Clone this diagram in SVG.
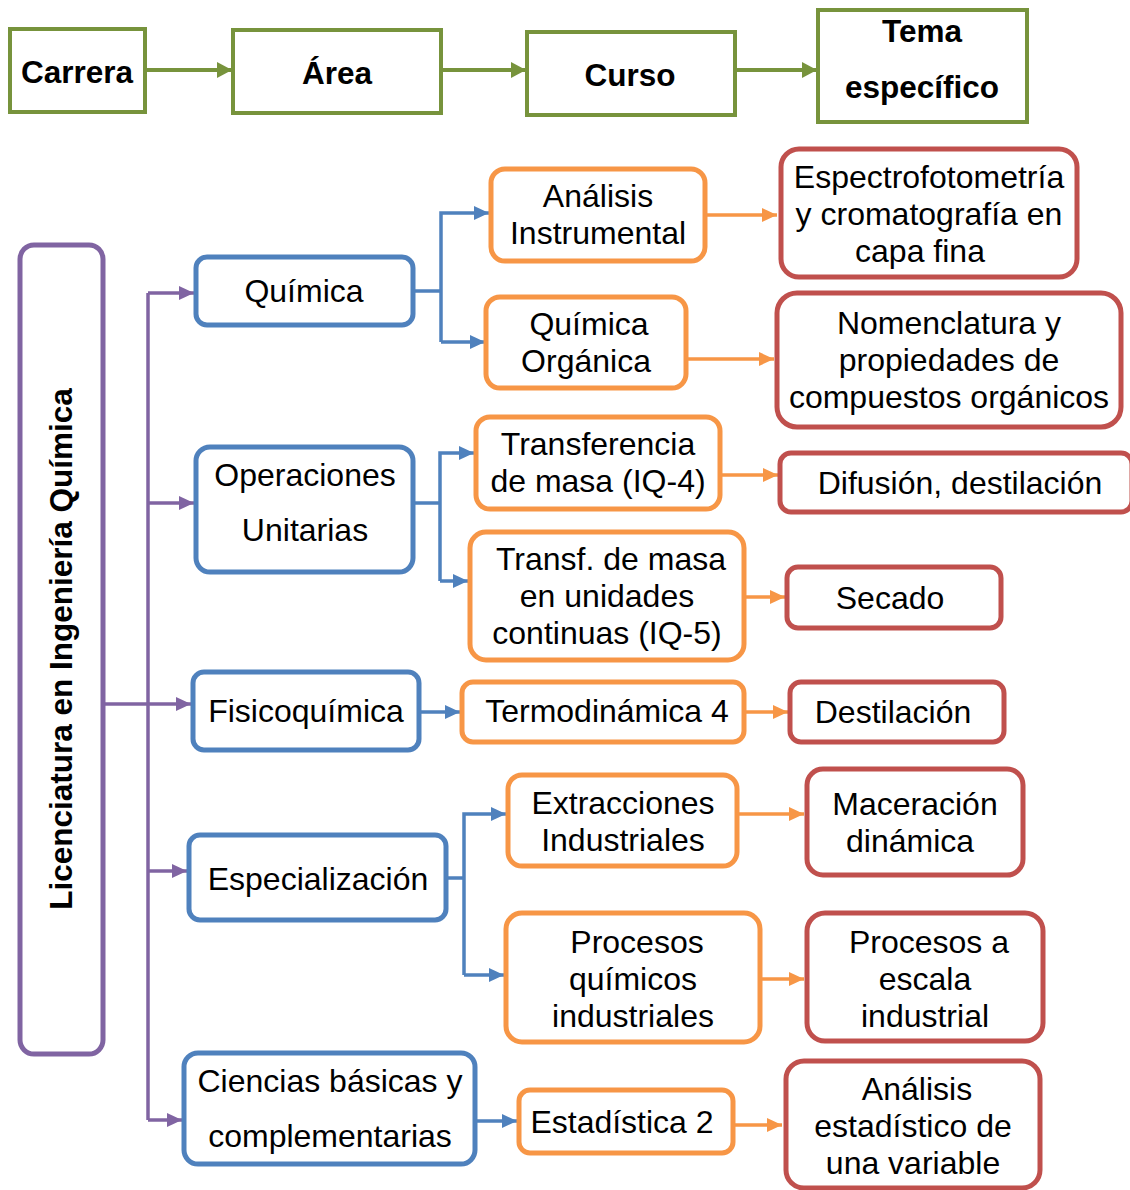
<svg xmlns="http://www.w3.org/2000/svg" width="1130" height="1190" viewBox="0 0 1130 1190">
<style>
text{font-family:"Liberation Sans",Arial,sans-serif;font-size:32px;fill:#000;text-anchor:middle}
.b{font-weight:bold;font-size:31.5px}
.g{fill:#fff;stroke:#77933C;stroke-width:4}
.p{fill:#fff;stroke:#8064A2;stroke-width:5}
.bl{fill:#fff;stroke:#4F81BD;stroke-width:5}
.o{fill:#fff;stroke:#F79646;stroke-width:5}
.r{fill:#fff;stroke:#C0504D;stroke-width:5}
.cg{fill:none;stroke:#77933C;stroke-width:4}
.cp{fill:none;stroke:#8064A2;stroke-width:3.5}
.cb{fill:none;stroke:#4F81BD;stroke-width:3.5}
.co{fill:none;stroke:#F79646;stroke-width:3.5}
</style>
<defs>
<marker id="ag" markerUnits="userSpaceOnUse" markerWidth="16" markerHeight="16" refX="15" refY="8" orient="auto"><path d="M0,0L15,8L0,16z" fill="#77933C"/></marker>
<marker id="ap" markerUnits="userSpaceOnUse" markerWidth="16" markerHeight="16" refX="15" refY="8" orient="auto"><path d="M0,1L15,8L0,15z" fill="#8064A2"/></marker>
<marker id="ab" markerUnits="userSpaceOnUse" markerWidth="16" markerHeight="16" refX="15" refY="8" orient="auto"><path d="M0,1L15,8L0,15z" fill="#4F81BD"/></marker>
<marker id="ao" markerUnits="userSpaceOnUse" markerWidth="16" markerHeight="16" refX="15" refY="8" orient="auto"><path d="M0,1L15,8L0,15z" fill="#F79646"/></marker>
</defs>
<g id="connectors">
<path class="cg" d="M145,70H232" marker-end="url(#ag)"/>
<path class="cg" d="M441,70H526" marker-end="url(#ag)"/>
<path class="cg" d="M735,70H817" marker-end="url(#ag)"/>
<path class="cp" d="M103,704H148"/>
<path class="cp" d="M148,293V1120"/>
<path class="cp" d="M148,293H194" marker-end="url(#ap)"/>
<path class="cp" d="M148,503H194" marker-end="url(#ap)"/>
<path class="cp" d="M148,704H191" marker-end="url(#ap)"/>
<path class="cp" d="M148,871H187" marker-end="url(#ap)"/>
<path class="cp" d="M148,1120H182" marker-end="url(#ap)"/>
<path class="cb" d="M413,291H441"/>
<path class="cb" d="M441,342V213H489" marker-end="url(#ab)"/>
<path class="cb" d="M441,342H485" marker-end="url(#ab)"/>
<path class="cb" d="M413,503H440"/>
<path class="cb" d="M440,581V453H474" marker-end="url(#ab)"/>
<path class="cb" d="M440,581H468" marker-end="url(#ab)"/>
<path class="cb" d="M419,712H460" marker-end="url(#ab)"/>
<path class="cb" d="M446,878H464"/>
<path class="cb" d="M464,975V814H506" marker-end="url(#ab)"/>
<path class="cb" d="M464,975H504" marker-end="url(#ab)"/>
<path class="cb" d="M475,1121H517" marker-end="url(#ab)"/>
<path class="co" d="M705,215H777" marker-end="url(#ao)"/>
<path class="co" d="M686,359H774" marker-end="url(#ao)"/>
<path class="co" d="M720,475H778" marker-end="url(#ao)"/>
<path class="co" d="M744,597H785" marker-end="url(#ao)"/>
<path class="co" d="M744,712H788" marker-end="url(#ao)"/>
<path class="co" d="M737,814H804" marker-end="url(#ao)"/>
<path class="co" d="M760,979H804" marker-end="url(#ao)"/>
<path class="co" d="M733,1125H782" marker-end="url(#ao)"/>
</g>
<g id="h-carrera"><rect class="g" x="10" y="29" width="135" height="83"/><text class="b" x="77" y="83">Carrera</text></g>
<g id="h-area"><rect class="g" x="233" y="30" width="208" height="83"/><text class="b" x="337" y="84">Área</text></g>
<g id="h-curso"><rect class="g" x="527" y="32" width="208" height="83"/><text class="b" x="630" y="86">Curso</text></g>
<g id="h-tema"><rect class="g" x="818" y="10" width="209" height="112"/><text class="b" x="922" y="42">Tema</text><text class="b" x="922" y="98">específico</text></g>
<g id="lic"><rect class="p" x="20" y="245" width="83" height="809" rx="14"/><text class="b" transform="translate(72,649) rotate(-90)">Licenciatura en Ingeniería Química</text></g>
<g id="quimica"><rect class="bl" x="196" y="257" width="217" height="68" rx="11"/><text x="304" y="302">Química</text></g>
<g id="opunit"><rect class="bl" x="196" y="447" width="217" height="125" rx="14"/><text x="305" y="486">Operaciones</text><text x="305" y="541">Unitarias</text></g>
<g id="fisico"><rect class="bl" x="193" y="672" width="226" height="78" rx="11"/><text x="306" y="722">Fisicoquímica</text></g>
<g id="espec"><rect class="bl" x="189" y="835" width="257" height="85" rx="11"/><text x="318" y="890">Especialización</text></g>
<g id="ciencias"><rect class="bl" x="184" y="1053" width="291" height="111" rx="14"/><text x="330" y="1092">Ciencias básicas y</text><text x="330" y="1147">complementarias</text></g>
<g id="analisis-inst"><rect class="o" x="491" y="169" width="214" height="92" rx="14"/><text x="598" y="207">Análisis</text><text x="598" y="244">Instrumental</text></g>
<g id="qorg"><rect class="o" x="486" y="297" width="200" height="91" rx="14"/><text x="589" y="335">Química</text><text x="586" y="372">Orgánica</text></g>
<g id="tm4"><rect class="o" x="476" y="417" width="244" height="92" rx="14"/><text x="598" y="455">Transferencia</text><text x="598" y="492">de masa (IQ-4)</text></g>
<g id="tm5"><rect class="o" x="470" y="532" width="274" height="128" rx="16"/><text x="611" y="570">Transf. de masa</text><text x="607" y="607">en unidades</text><text x="607" y="644">continuas (IQ-5)</text></g>
<g id="termo"><rect class="o" x="462" y="682" width="282" height="60" rx="11"/><text x="607" y="722">Termodinámica 4</text></g>
<g id="extr"><rect class="o" x="508" y="775" width="229" height="91" rx="14"/><text x="623" y="814">Extracciones</text><text x="623" y="851">Industriales</text></g>
<g id="procq"><rect class="o" x="506" y="913" width="254" height="129" rx="16"/><text x="637" y="953">Procesos</text><text x="633" y="990">químicos</text><text x="633" y="1027">industriales</text></g>
<g id="estad"><rect class="o" x="519" y="1090" width="214" height="63" rx="11"/><text x="622" y="1133">Estadística 2</text></g>
<g id="t-espectro"><rect class="r" x="781" y="149" width="296" height="128" rx="18"/><text x="929" y="188">Espectrofotometría</text><text x="929" y="225">y cromatografía en</text><text x="920" y="262">capa fina</text></g>
<g id="t-nomen"><rect class="r" x="777" y="293" width="344" height="134" rx="20"/><text x="949" y="334">Nomenclatura y</text><text x="949" y="371">propiedades de</text><text x="949" y="408">compuestos orgánicos</text></g>
<g id="t-difusion"><rect class="r" x="780" y="453" width="352" height="59" rx="11"/><text x="960" y="494">Difusión, destilación</text></g>
<g id="t-secado"><rect class="r" x="787" y="567" width="214" height="61" rx="11"/><text x="890" y="609">Secado</text></g>
<g id="t-destil"><rect class="r" x="790" y="682" width="214" height="60" rx="11"/><text x="893" y="723">Destilación</text></g>
<g id="t-macer"><rect class="r" x="807" y="769" width="216" height="106" rx="16"/><text x="915" y="815">Maceración</text><text x="910" y="852">dinámica</text></g>
<g id="t-escala"><rect class="r" x="807" y="913" width="236" height="128" rx="18"/><text x="929" y="953">Procesos a</text><text x="925" y="990">escala</text><text x="925" y="1027">industrial</text></g>
<g id="t-estad"><rect class="r" x="786" y="1061" width="254" height="127" rx="18"/><text x="917" y="1100">Análisis</text><text x="913" y="1137">estadístico de</text><text x="913" y="1174">una variable</text></g>
</svg>
